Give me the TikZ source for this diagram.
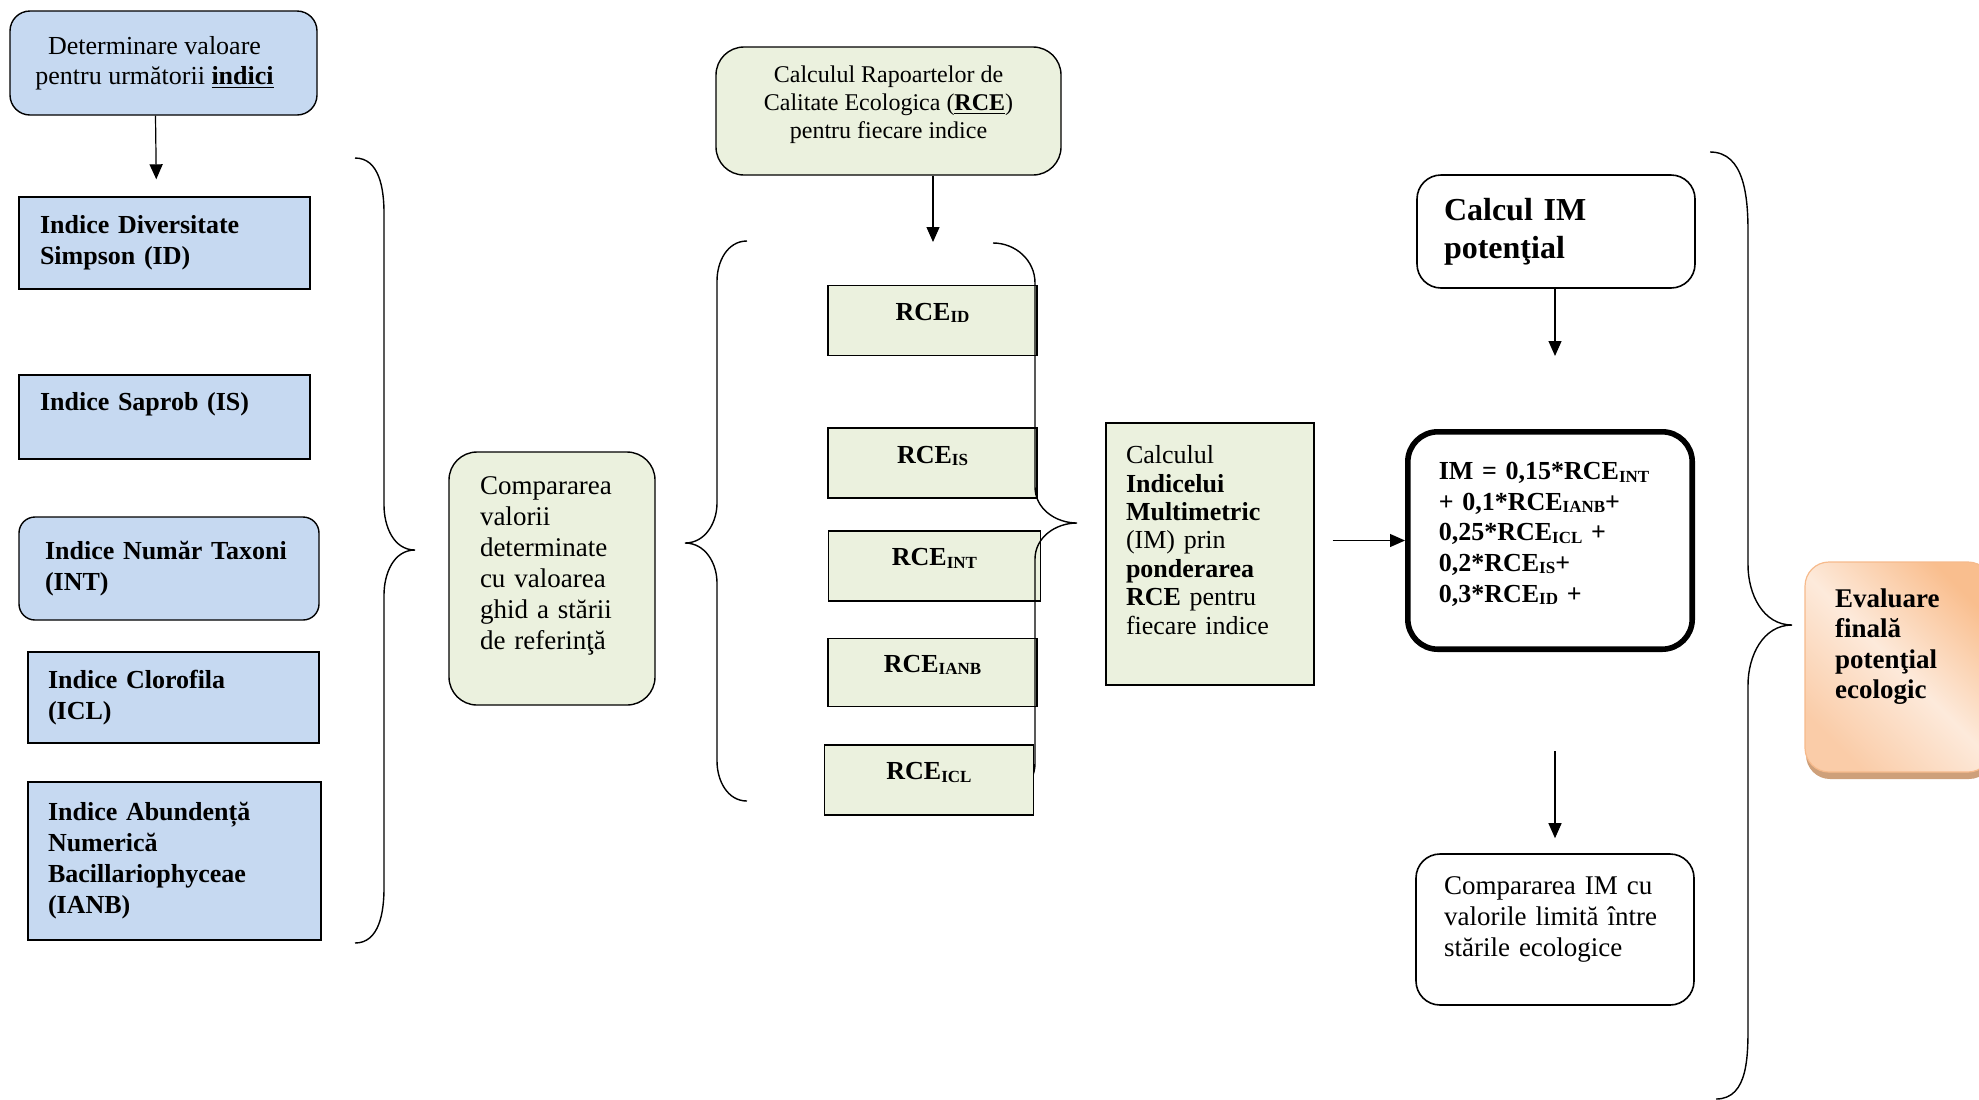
\documentclass[tikz,border=0pt]{standalone}
\usepackage{fontspec}
\setmainfont{Liberation Serif}
\usepackage{xcolor}
\definecolor{idxblue}{RGB}{198,217,241}
\definecolor{rcegreen}{RGB}{235,241,222}
\definecolor{evdark}{RGB}{249,190,142}
\definecolor{evmid}{RGB}{250,204,168}
\definecolor{evlight}{RGB}{253,234,219}
\definecolor{evedge}{RGB}{246,186,140}
\definecolor{evshadow}{RGB}{206,160,122}
\usetikzlibrary{arrows.meta,positioning,shadows,calc}
\newcommand{\rcesub}[1]{\raisebox{-1.2pt}{\fontsize{8.5}{8.5}\selectfont#1}}
\tikzset{
  idx/.style={draw=black,line width=0.7pt,fill=idxblue,align=left,inner xsep=10.5pt,font=\fontsize{13}{15.5}\selectfont\bfseries},
  grn/.style={draw=black,line width=0.7pt,fill=rcegreen,align=left,font=\fontsize{13.5}{15.5}\selectfont},
  rce/.style={draw=black,line width=0.8pt,fill=rcegreen,minimum width=104.5pt,minimum height=35pt,text height=6pt,text depth=6pt,font=\fontsize{13}{15}\selectfont\bfseries},
  wht/.style={draw=black,line width=0.8pt,fill=white,rounded corners=12pt,align=left},
  arr/.style={-{Triangle[length=7.5pt,width=6.5pt]},line width=0.6pt,draw=black},
  brc/.style={line width=0.7pt,draw=black},
}

\begin{document}
\begin{tikzpicture}[x=0.5pt,y=-0.5pt]
    \useasboundingbox (0,0) rectangle (1979,1099);
    \node[idx,rounded corners=10pt,align=center,font=\fontsize{13}{15}\selectfont,minimum width=153.5pt,minimum height=52pt] (det) at (163.5,63) {Determinare valoare\hspace*{9pt}\\pentru următorii \underline{\textbf{indici}}\hspace*{9pt}};
    \node[idx,text width=124.5pt,minimum height=46pt] (id) at (164.5,243) {Indice Diversitate\\Simpson (ID)};
    \node[idx,text width=124.5pt,minimum height=42pt] (is) at (164.5,417) {Indice Saprob (IS)\\\mbox{}};
    \node[idx,rounded corners=8pt,inner xsep=13pt,text width=124pt,minimum height=51.5pt] (int) at (169,568.5) {Indice Număr Taxoni\\(INT)};
    \node[idx,inner xsep=10pt,text width=125.5pt,minimum height=45.5pt] (icl) at (173.5,697.5) {Indice Clorofila\\(ICL)};
    \node[idx,inner xsep=10pt,text width=126.5pt,minimum height=79pt] (ianb) at (174.5,861) {Indice Abundență\\Numerică\\Bacillariophyceae\\(IANB)};
    \draw[arr,shorten >=8.5pt] ([xshift=-4pt]det.south) -- ([xshift=-4pt]id.north);
    \draw[brc] (355,158) to[out=0,in=90] (384,213) -- (384,505) to[out=-90,in=180] (415,550) to[out=180,in=90] (384,595) -- (384,888) to[out=-90,in=0] (355,943);

    \node[grn,rounded corners=14pt,inner xsep=15.5pt,text width=72pt,minimum height=126.5pt] (cmp) at (552,578.5) {Compararea\\valorii\\determinate\\cu valoarea\\ghid a stării\\de referinţă\\\mbox{}};
    \draw[brc] (747,241) to[out=180,in=90] (717,281) -- (717,503) to[out=-90,in=0] (685,543) to[out=0,in=90] (717,583) -- (717,761) to[out=-90,in=180] (747,801);

    \node[grn,rounded corners=14pt,align=center,font=\fontsize{12}{14}\selectfont,minimum width=172.5pt,minimum height=64pt] (rap) at (888.5,111) {Calculul Rapoartelor de\\Calitate Ecologica (\underline{\textbf{RCE}})\\pentru fiecare indice\\[-5pt]\mbox{}};
    \coordinate (rcein) at (933,242);
    \draw[arr] (rap.south -| rcein) -- (rcein);
    \node[rce] (rid) at (932.5,320.5) {RCE\rcesub{ID}};
    \node[rce,below=35.5pt of rid] (ris) {RCE\rcesub{IS}};
    \node[rce,minimum width=106pt,below=15.5pt of ris,xshift=1pt] (rint) {RCE\rcesub{INT}};
    \node[rce,minimum height=34pt,below=18pt of rint,xshift=-1pt] (rianb) {RCE\rcesub{IANB}};
    \draw[brc] (993,243) to[out=0,in=90] (1035,283) -- (1035,487) to[out=-90,in=180] (1077,523) to[out=180,in=90] (1035,559) -- (1035,763) to[out=-90,in=0] (993,803);
    \node[rce,below=18.5pt of rianb,xshift=-1.75pt] (ricl) {RCE\rcesub{ICL}};

    \node[grn,inner xsep=10pt,text width=84pt,minimum height=131pt,font=\fontsize{13}{14.2}\selectfont] (calc) at (1210,554) {Calculul\\\textbf{Indicelui}\\\textbf{Multimetric}\\(IM) prin\\\textbf{ponderarea}\\\textbf{RCE} pentru\\fiecare indice\\\mbox{}};

    \node[wht,inner xsep=13.5pt,text width=112pt,minimum height=56.5pt,font=\fontsize{16}{19}\selectfont\bfseries] (pot) at (1556,231.5) {Calcul IM\\potenţial};
    \coordinate (potdown) at (1555,356);
    \draw[arr] (pot.south -| potdown) -- (potdown);
    \node[wht,line width=2.8pt,rounded corners=15pt,inner xsep=15.5pt,text width=111.2pt,minimum height=108.7pt,font=\fontsize{13}{15.3}\selectfont\bfseries] (im) at (1550,540.5) {IM = 0,15*RCE\rcesub{INT}\\+ 0,1*RCE\rcesub{IANB}+\\0,25*RCE\rcesub{ICL} +\\0,2*RCE\rcesub{IS}+\\0,3*RCE\rcesub{ID} +\\[-7pt]\mbox{}};
    \draw[arr,shorten <=9pt] (calc.east |- im.west) -- (im.west);
    \coordinate (imdown) at (1555,751);
    \node[wht,inner xsep=14pt,text width=111pt,minimum height=75.5pt,font=\fontsize{13.5}{15.5}\selectfont] (cim) at (1555,929.5) {Compararea IM cu\\valorile limită între\\stările ecologice\\[-3pt]\mbox{}};
    \draw[arr,shorten >=7.5pt] (imdown) -- (imdown |- cim.north);

    \draw[brc] (1710,152) to[out=0,in=90] (1748,232) -- (1748,565) to[out=-90,in=180] (1792,625) to[out=180,in=90] (1748,685) -- (1748,1020) to[out=-90,in=0] (1716,1099);
    \node[draw=evedge,line width=0.6pt,rounded corners=12pt,left color=evmid,right color=evdark,middle color=evlight,shading angle=135,drop shadow={shadow xshift=0.5pt,shadow yshift=-3.5pt,fill=evshadow,opacity=1},align=left,inner xsep=15pt,text width=63.5pt,minimum height=105pt,font=\fontsize{13.5}{15.3}\selectfont\bfseries] (eval) at (1898.5,667) {Evaluare\\finală\\potenţial\\ecologic\\[8pt]\mbox{}};
\end{tikzpicture}
\end{document}
